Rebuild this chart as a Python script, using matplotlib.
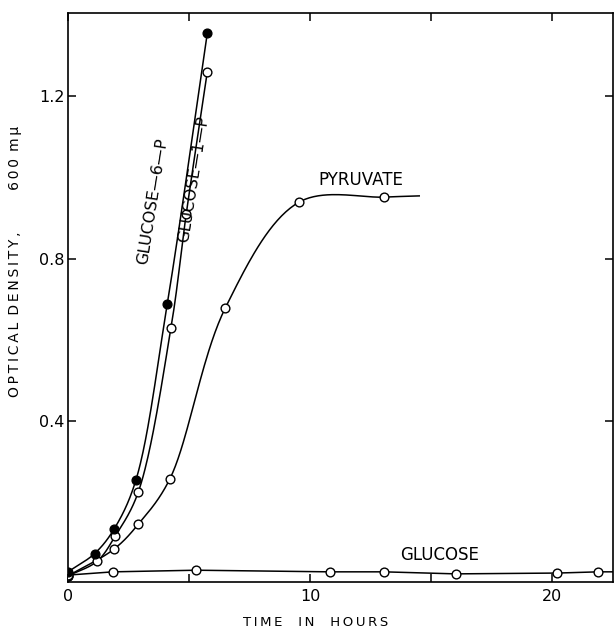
#!/usr/bin/env python3
"""Growth curves: optical density vs time on different carbon sources."""

import numpy as np
import matplotlib

matplotlib.use("Agg")
import matplotlib.pyplot as plt

# hours / optical density
g6p_t = [0.0, 1.1, 1.9, 2.8, 4.1, 5.75]
g6p_od = [0.03, 0.075, 0.135, 0.255, 0.69, 1.355]

g1p_t = [0.0, 1.2, 1.95, 2.9, 4.25, 4.88, 5.75]
g1p_od = [0.02, 0.056, 0.118, 0.226, 0.63, 0.91, 1.26]

pyr_t = [0.0, 1.9, 2.9, 4.2, 6.5, 9.55, 13.05]
pyr_od = [0.02, 0.086, 0.147, 0.258, 0.68, 0.94, 0.952]
pyr_line_end = (14.5, 0.955)

glu_t = [0.0, 1.86, 5.3, 10.8, 13.05, 16.0, 20.2, 21.9]
glu_od = [0.022, 0.03, 0.034, 0.03, 0.03, 0.025, 0.027, 0.03]
glu_line_end = (22.6, 0.03)

x_ticks = [0, 5, 10, 15, 20]
x_labels = ["0", "", "10", "", "20"]
y_ticks = [0.4, 0.8, 1.2]
y_labels = ["0.4", "0.8", "1.2"]

XMAX, YMIN, YMAX = 22.5, 0.005, 1.405

THIN = "\u2009"
EM = "\u2003"


def spaced(word):
    return THIN.join(word)


def smooth_path(x, y, sx, sy, n=40):
    """Centripetal Catmull-Rom path through the points, built in
    screen-proportional units so it bends like a french curve."""
    p = np.column_stack([np.asarray(x, float) * sx, np.asarray(y, float) * sy])
    p = np.vstack([2 * p[0] - p[1], p, 2 * p[-1] - p[-2]])
    out = []
    for i in range(1, len(p) - 2):
        p0, p1, p2, p3 = p[i - 1], p[i], p[i + 1], p[i + 2]
        t0 = 0.0
        t1 = t0 + np.linalg.norm(p1 - p0) ** 0.5
        t2 = t1 + np.linalg.norm(p2 - p1) ** 0.5
        t3 = t2 + np.linalg.norm(p3 - p2) ** 0.5
        t = np.linspace(t1, t2, n)[:, None]
        a1 = (t1 - t) / (t1 - t0) * p0 + (t - t0) / (t1 - t0) * p1
        a2 = (t2 - t) / (t2 - t1) * p1 + (t - t1) / (t2 - t1) * p2
        a3 = (t3 - t) / (t3 - t2) * p2 + (t - t2) / (t3 - t2) * p3
        b1 = (t2 - t) / (t2 - t0) * a1 + (t - t0) / (t2 - t0) * a2
        b2 = (t3 - t) / (t3 - t1) * a2 + (t - t1) / (t3 - t1) * a3
        c = (t2 - t) / (t2 - t1) * b1 + (t - t1) / (t2 - t1) * b2
        out.append(c)
    c = np.vstack(out)
    return c[:, 0] / sx, c[:, 1] / sy


fig = plt.figure(figsize=(6.14, 6.31), dpi=100)
ax = fig.add_axes([68 / 614, 1 - 582 / 631, 545 / 614, 569 / 631])

# px per data unit, so the curve is smoothed in page proportions
SX = 545 / XMAX
SY = 569 / (YMAX - YMIN)

lw = 1.1
ms = 6.3

# smooth curves
for t, od, extra in [
    (g6p_t, g6p_od, None),
    (g1p_t, g1p_od, None),
    (pyr_t, pyr_od, pyr_line_end),
]:
    tt, oo = list(t), list(od)
    if extra is not None:
        tt.append(extra[0])
        oo.append(extra[1])
    xs, ys = smooth_path(tt, oo, SX, SY)
    ax.plot(xs, ys, color="black", lw=lw, zorder=2)

ax.plot(list(glu_t) + [glu_line_end[0]], list(glu_od) + [glu_line_end[1]],
        color="black", lw=lw, zorder=2)

# markers
ax.plot(g6p_t, g6p_od, "o", ms=ms, mfc="black", mec="black", mew=1.0, zorder=4)
for t, od in [(g1p_t, g1p_od), (pyr_t, pyr_od), (glu_t, glu_od)]:
    ax.plot(t, od, "o", ms=ms, mfc="white", mec="black", mew=1.0, zorder=3)

# curve labels
ax.text(3.51, 0.942, "GLUCOSE\u20146\u2014P", rotation=81, ha="center",
        va="center", rotation_mode="anchor", fontsize=11.5)
ax.text(5.17, 0.996, "GLUCOSE\u20141\u2014P", rotation=81, ha="center",
        va="center", rotation_mode="anchor", fontsize=11.5)
ax.text(12.1, 0.994, "PYRUVATE", ha="center", va="center", fontsize=12)
ax.text(15.33, 0.071, "GLUCOSE", ha="center", va="center", fontsize=12)

ax.set_xlim(0, XMAX)
ax.set_ylim(YMIN, YMAX)

ax.set_xticks(x_ticks)
ax.set_xticklabels(x_labels, fontsize=11.5)
ax.set_yticks(y_ticks)
ax.set_yticklabels(y_labels, fontsize=11.5)
ax.tick_params(direction="in", length=5.5, width=1.1, top=True, right=True)
ax.tick_params(axis="x", pad=5)
ax.tick_params(axis="y", pad=2.5)

for s in ax.spines.values():
    s.set_linewidth(1.2)

xlab = (EM + THIN).join(spaced(w) for w in ["TIME", "IN", "HOURS"])
ax.set_xlabel(xlab, fontsize=9.5)
ax.xaxis.set_label_coords(0.455, -0.059)

ylab = (spaced("OPTICAL") + " " + THIN + spaced("DENSITY,") + EM * 3
        + spaced("600") + " " + THIN + spaced("mμ"))
ax.set_ylabel(ylab, fontsize=10)
ax.yaxis.set_label_coords(-0.0844, 0.563)

fig.savefig("out.png", dpi=100)
